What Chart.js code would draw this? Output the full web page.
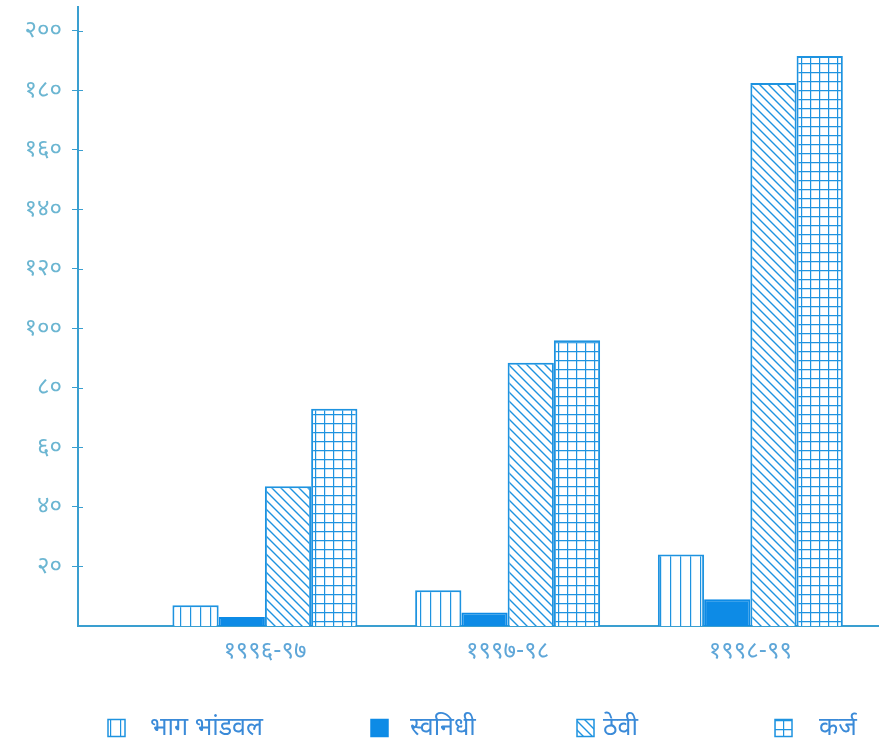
<!DOCTYPE html>
<html>
<head>
<meta charset="utf-8">
<script src="https://cdn.jsdelivr.net/npm/chart.js@4/dist/chart.umd.min.js"></script>
<style>
  html, body { margin: 0; padding: 0; background: #ffffff; }
  #wrap { width: 879px; height: 749px; position: relative; }
</style>
</head>
<body>
<div id="wrap"><canvas id="c"></canvas></div>
<script>
// ---- data ----
const categories   = ['१९९६-९७', '१९९७-९८', '१९९८-९९'];
const seriesNames  = ['भाग भांडवल', 'स्वनिधी', 'ठेवी', 'कर्ज'];
const shareCapital = [7, 12, 24];        // भाग भांडवल
const ownFunds     = [3, 4.5, 9];        // स्वनिधी
const deposits     = [47, 88.5, 182.5];  // ठेवी
const loans        = [73, 96, 191.5];    // कर्ज
const yTickValues  = [20, 40, 60, 80, 100, 120, 140, 160, 180, 200];
const yTickLabels  = ['२०', '४०', '६०', '८०', '१००', '१२०', '१४०', '१६०', '१८०', '२००'];

// ---- styles / layout ----
const BLUE  = '#1e93e0';
const SOLID = '#0d8be6';
const AXIS  = '#3a9fd0';
const FONT  = "'Noto Sans Devanagari', 'Noto Sans', sans-serif";
const LEGEND_LAYOUT = { boxX: [108, 371, 577, 775], textX: [150, 410, 603, 819], cy: 728, box: 17 };

function makePattern(kind) {
  const c = document.createElement('canvas');
  const s = kind === 'vert' ? 10 : 9;
  c.width = s; c.height = s;
  const g = c.getContext('2d');
  g.fillStyle = '#ffffff';
  g.fillRect(0, 0, s, s);
  g.strokeStyle = BLUE;
  g.lineWidth = 1.4;
  g.beginPath();
  if (kind === 'vert') {
    g.moveTo(0.5, 0); g.lineTo(0.5, s);
  } else if (kind === 'diag') {
    g.moveTo(-1, -1); g.lineTo(s + 1, s + 1);
    g.moveTo(-1, s - 1); g.lineTo(1, s + 1);
    g.moveTo(s - 1, -1); g.lineTo(s + 1, 1);
  } else {
    g.moveTo(0.5, 0); g.lineTo(0.5, s);
    g.moveTo(0, 0.5); g.lineTo(s, 0.5);
  }
  g.stroke();
  return g.createPattern(c, 'repeat');
}

const toPoints = arr => arr.map((v, i) => ({ x: i, y: v }));

// small tick marks on the inner side of the y axis
const innerTicks = {
  id: 'innerTicks',
  afterDraw(chart) {
    const y = chart.scales.y, ctx = chart.ctx;
    ctx.save();
    ctx.strokeStyle = AXIS;
    ctx.lineWidth = 1;
    y.ticks.forEach(t => {
      const py = Math.round(y.getPixelForValue(t.value)) + 0.5;
      ctx.beginPath();
      ctx.moveTo(chart.chartArea.left, py);
      ctx.lineTo(chart.chartArea.left + 5, py);
      ctx.stroke();
    });
    ctx.restore();
  }
};

// legend drawn from the datasets, spaced like the original
const spacedLegend = {
  id: 'spacedLegend',
  afterDraw(chart) {
    const ctx = chart.ctx, L = LEGEND_LAYOUT;
    ctx.save();
    ctx.font = '25px ' + FONT;
    ctx.textBaseline = 'middle';
    ctx.textAlign = 'left';
    chart.data.datasets.forEach((ds, i) => {
      const x = L.boxX[i], y = L.cy - L.box / 2;
      ctx.fillStyle = ds.backgroundColor;
      ctx.fillRect(x, y, L.box, L.box);
      ctx.strokeStyle = ds.borderColor;
      ctx.lineWidth = 1.5;
      ctx.strokeRect(x, y, L.box, L.box);
      ctx.fillStyle = '#3a8ad8';
      ctx.fillText(ds.label, L.textX[i], L.cy + 2);
    });
    ctx.restore();
  }
};

Chart.defaults.font.family = FONT;

new Chart(document.getElementById('c'), {
  type: 'bar',
  data: {
    datasets: [
      { label: seriesNames[0], data: toPoints(shareCapital), backgroundColor: makePattern('vert'), borderColor: BLUE, borderWidth: 2 },
      { label: seriesNames[1], data: toPoints(ownFunds),     backgroundColor: SOLID,               borderColor: SOLID, borderWidth: 2 },
      { label: seriesNames[2], data: toPoints(deposits),     backgroundColor: makePattern('diag'), borderColor: BLUE, borderWidth: 2 },
      { label: seriesNames[3], data: toPoints(loans),        backgroundColor: makePattern('grid'), borderColor: BLUE, borderWidth: 2 }
    ]
  },
  options: {
    responsive: true,
    maintainAspectRatio: false,
    animation: false,
    categoryPercentage: 0.762,
    barPercentage: 1.0,
    layout: { padding: { top: 7, right: 0, bottom: 83, left: 0 } },
    plugins: {
      tooltip: { enabled: false },
      legend: { display: false }
    },
    scales: {
      x: {
        type: 'linear',
        min: -0.77,
        max: 2.53,
        offset: false,
        grid: { display: false, offset: false },
        border: { display: true, color: AXIS, width: 2 },
        afterBuildTicks: s => { s.ticks = categories.map((c, i) => ({ value: i })); },
        afterFit: s => { s.height = 40; s.paddingLeft = 0; s.paddingRight = 0; },
        ticks: {
          padding: 5,
          maxRotation: 0,
          color: '#5ea6d8',
          font: { size: 24 },
          callback: v => categories[v] ?? ''
        }
      },
      y: {
        min: 0,
        max: 208,
        grid: { drawOnChartArea: false, tickLength: 6, color: AXIS, lineWidth: 1 },
        border: { display: true, color: AXIS, width: 2 },
        afterBuildTicks: s => { s.ticks = yTickValues.map(v => ({ value: v })); },
        afterFit: s => { s.width = 78; s.paddingTop = 0; s.paddingBottom = 0; },
        ticks: {
          padding: 10,
          labelOffset: 2,
          color: '#6cb6d2',
          font: { size: 24 },
          callback: v => { const i = yTickValues.indexOf(v); return i >= 0 ? yTickLabels[i] : ''; }
        }
      }
    }
  },
  plugins: [innerTicks, spacedLegend]
});
</script>
</body>
</html>
